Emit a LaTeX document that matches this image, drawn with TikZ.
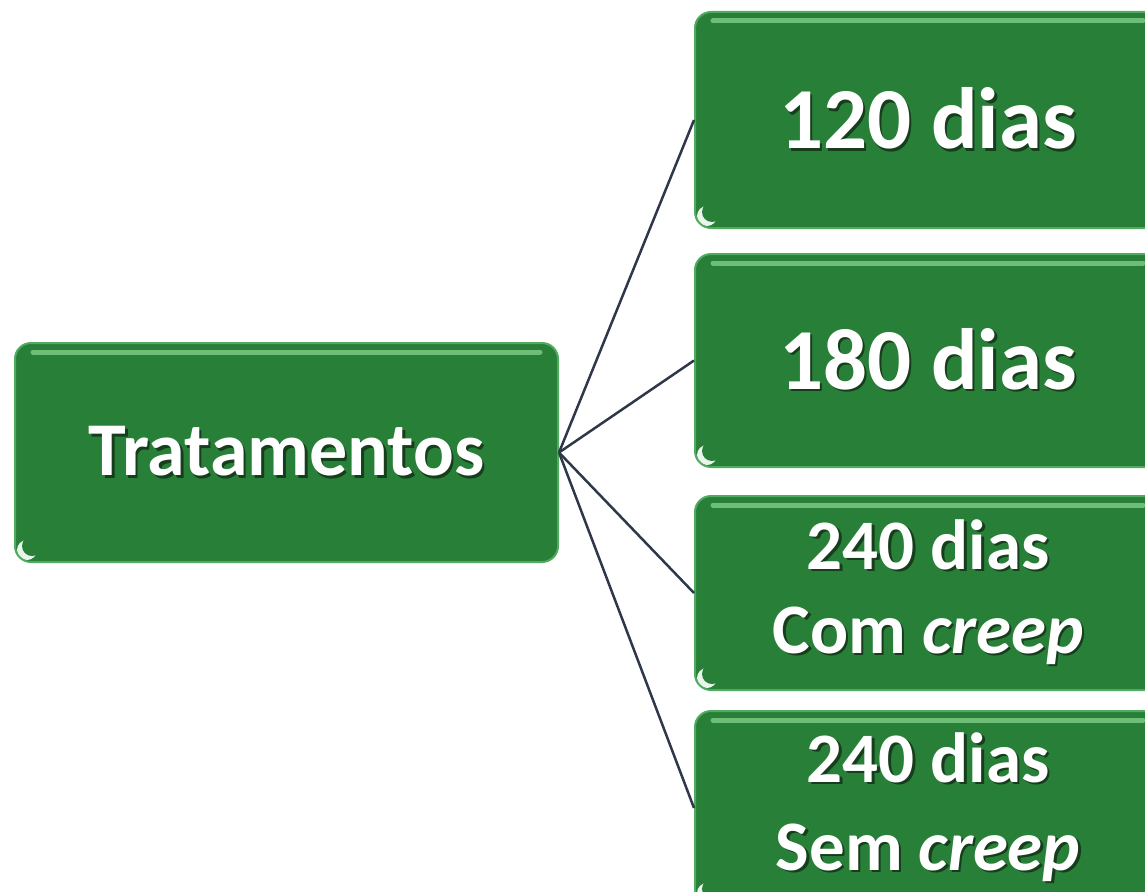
\documentclass[tikz,border=0pt]{standalone}
\usepackage{fontspec}
\setmainfont{Carlito}
\usepackage{tikz}
\usetikzlibrary{positioning,calc}
\usepackage{xcolor}
\definecolor{boxgreen}{RGB}{39,127,56}
\definecolor{boxrim}{RGB}{80,170,95}
\definecolor{boxshine}{RGB}{110,190,120}
\definecolor{linkgray}{RGB}{46,56,74}
\definecolor{txtshadow}{RGB}{22,62,28}
% white text with a dark drop shadow
\newcommand\shtxt[1]{\makebox[0pt][l]{\kern2.5pt\raisebox{-2.5pt}{\textcolor{txtshadow}{#1}}}#1}
\tikzset{
    gbox/.style={
        draw=boxrim,line width=2pt,rounded corners=16pt,fill=boxgreen,
        align=center,text=white,inner sep=0pt,
        path picture={
            \draw[boxshine,line width=5pt,line cap=round]
            ([xshift=18pt,yshift=-9pt]path picture bounding box.north west)--
            ([xshift=-18pt,yshift=-9pt]path picture bounding box.north east);
            \fill[white!85!boxshine]
            ([xshift=12pt,yshift=12pt]path picture bounding box.south west) circle (10pt);
            \fill[boxgreen]
            ([xshift=17pt,yshift=16pt]path picture bounding box.south west) circle (10pt);
        }
    },
    link/.style={draw=linkgray,line width=2.5pt}
}

\begin{document}
\begin{tikzpicture}[x=1pt,y=-1pt]

\useasboundingbox (0,0) rectangle (1145,891);
\clip (0,0) rectangle (1145,891);

\node[gbox,minimum width=543pt,minimum height=219pt,
font=\bfseries\fontsize{76}{90}\selectfont]
(trat) at (286.5,452.5){\shtxt{Tratamentos}};

\node[gbox,minimum width=466pt,minimum height=216pt,
font=\bfseries\fontsize{87}{100}\selectfont]
(d120) at (928,120){\shtxt{120 dias}};

\node[gbox,minimum width=466pt,minimum height=213pt,
font=\bfseries\fontsize{87}{100}\selectfont]
(d180) at (928,360.5){\shtxt{180 dias}};

\node[gbox,minimum width=466pt,minimum height=194pt,
font=\bfseries\fontsize{71}{84}\selectfont]
(d240c) at (928,593){\shtxt{240 dias}\\\shtxt{Com \textit{creep}}};

\node[gbox,minimum width=466pt,minimum height=194pt,
font=\bfseries\fontsize{71}{88}\selectfont]
(d240s) at (928,808){\shtxt{240 dias}\\\shtxt{Sem \textit{creep}}};

\foreach \t in {d120,d180,d240c,d240s}
  \draw[link](trat.east)--(\t.west);

\end{tikzpicture}
\end{document}
